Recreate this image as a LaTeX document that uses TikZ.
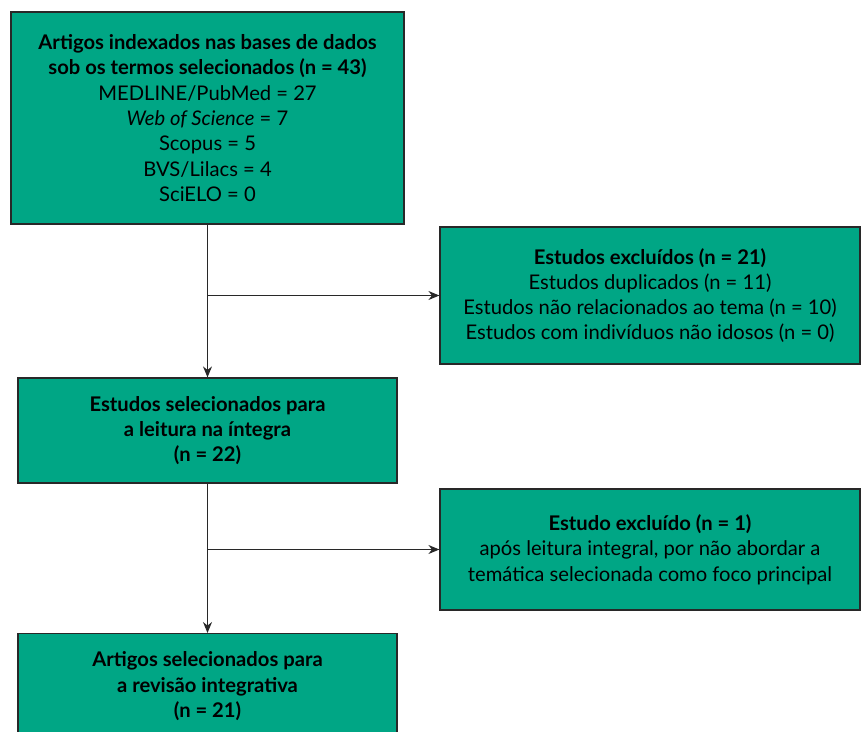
\documentclass[tikz,border=0pt]{standalone}
\usepackage{fontspec}
\setmainfont{Lato}
\usetikzlibrary{arrows.meta,calc}
\definecolor{boxgreen}{RGB}{0,166,133}
\definecolor{edgegray}{RGB}{40,40,40}
\tikzset{
  flowbox/.style={draw=edgegray, line width=1.2pt, fill=boxgreen, align=center, inner sep=0pt,
    font=\fontsize{20.2}{25.3}\selectfont, text=black},
  conn/.style={draw=edgegray, line width=1.1pt, -{Stealth[length=11pt,width=9pt]}},
  plain/.style={draw=edgegray, line width=1.1pt}
}
\begin{document}
\begin{tikzpicture}[x=1pt,y=-1pt]
\useasboundingbox (0,0) rectangle (861,731);
\clip (0,0) rectangle (861,731);
\node[flowbox, minimum width=393pt, minimum height=212pt] (b1) at (207.5,118)
 {\textbf{Artigos indexados nas bases de dados}\\
  \textbf{sob os termos selecionados (n = 43)}\\
  MEDLINE/PubMed = 27\\
  \textit{Web of Science} = 7\\
  Scopus = 5\\
  BVS/Lilacs = 4\\
  SciELO = 0};
\node[flowbox, minimum width=420pt, minimum height=137pt] (e1) at (650,295.5)
 {\textbf{Estudos excluídos (n = 21)}\\
  Estudos duplicados (n = 11)\\
  Estudos não relacionados ao tema (n = 10)\\
  Estudos com indivíduos não idosos (n = 0)};
\node[flowbox, minimum width=379pt, minimum height=105pt] (b2) at (207.5,430.5)
 {\textbf{Estudos selecionados para}\\
  \textbf{a leitura na íntegra}\\
  \textbf{(n = 22)}};
\node[flowbox, minimum width=420pt, minimum height=121pt] (e2) at (650,549.5)
 {\textbf{Estudo excluído (n = 1)}\\
  após leitura integral, por não abordar a\\
  temática selecionada como foco principal};
\node[flowbox, minimum width=379pt, minimum height=105pt, anchor=north] (b3) at (207.5,633)
 {\textbf{Artigos selecionados para}\\
  \textbf{a revisão integrativa}\\
  \textbf{(n = 21)}};
\coordinate (j1) at (b1.south |- e1.west);
\coordinate (j2) at (b2.south |- e2.west);
\draw[conn] (b1.south) -- (b2.north);
\draw[conn] (j1) -- (e1.west);
\draw[conn] (b2.south) -- (b3.north);
\draw[conn] (j2) -- (e2.west);
\end{tikzpicture}
\end{document}
